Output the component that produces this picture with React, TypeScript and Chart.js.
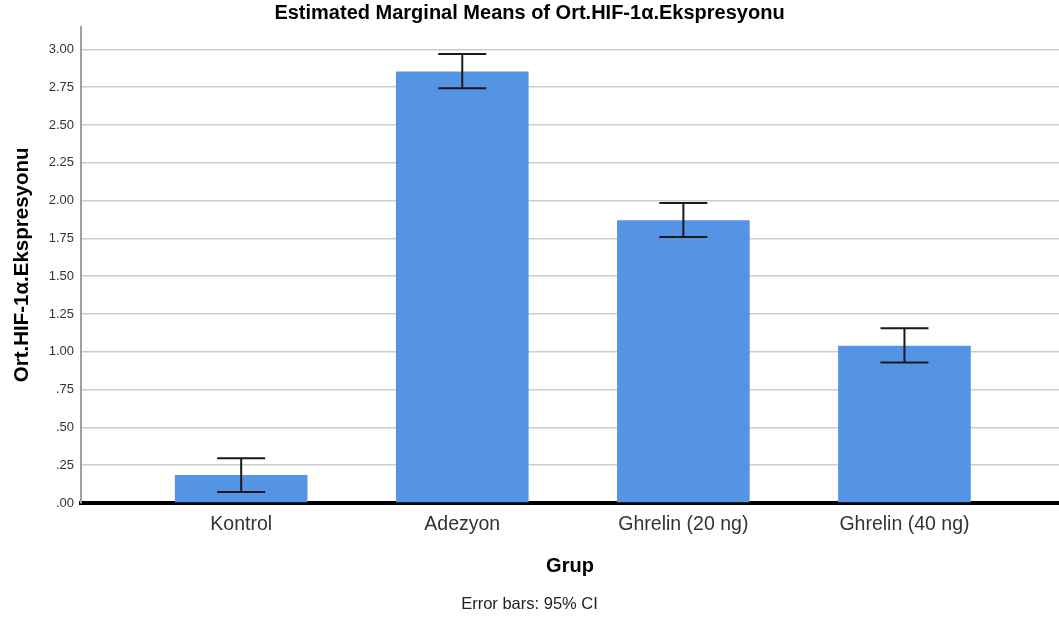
import React, { useEffect, useRef } from "react";
import { Chart, registerables } from "chart.js";

Chart.register(...registerables);

const categories = ["Kontrol", "Adezyon", "Ghrelin (20 ng)", "Ghrelin (40 ng)"];
const means = [0.185, 2.853, 1.87, 1.04];
const ciLower = [0.073, 2.743, 1.759, 0.93];
const ciUpper = [0.296, 2.97, 1.984, 1.155];
const yTickStep = 0.25;

const FONT = "'Liberation Sans', Arial, sans-serif";

function fmtTick(v: number): string {
  const s = Number(v).toFixed(2);
  return s.startsWith("0") ? s.slice(1) : s;
}

const errorBarPlugin = {
  id: "errorBars",
  afterDatasetsDraw(chart: any) {
    const { ctx, scales } = chart;
    const xs = scales.x;
    const ys = scales.y;
    ctx.save();
    ctx.strokeStyle = "#1a1a1a";
    ctx.lineWidth = 2;
    const cap = 24;
    categories.forEach((_, i) => {
      const x = xs.getPixelForValue(i);
      const yt = ys.getPixelForValue(ciUpper[i]);
      const yb = ys.getPixelForValue(ciLower[i]);
      ctx.beginPath();
      ctx.moveTo(x, yt);
      ctx.lineTo(x, yb);
      ctx.moveTo(x - cap, yt);
      ctx.lineTo(x + cap, yt);
      ctx.moveTo(x - cap, yb);
      ctx.lineTo(x + cap, yb);
      ctx.stroke();
    });
    ctx.restore();
  },
};

const bgPlugin = {
  id: "bg",
  beforeDraw(chart: any) {
    const { ctx, width, height } = chart;
    ctx.save();
    ctx.fillStyle = "#ffffff";
    ctx.fillRect(0, 0, width, height);
    ctx.restore();
  },
};

export default function App() {
  const ref = useRef<HTMLCanvasElement | null>(null);

  useEffect(() => {
    document.body.style.margin = "0";
    const canvas = ref.current;
    if (!canvas) return;
    const chart = new Chart(canvas, {
      type: "bar",
      data: {
        datasets: [
          {
            data: means.map((v, i) => ({ x: i, y: v })),
            backgroundColor: "#5594E4",
            borderWidth: 0,
            barPercentage: 0.6,
            categoryPercentage: 1,
          } as any,
        ],
      },
      options: {
        animation: false,
        responsive: false,
        devicePixelRatio: 1,
        layout: { padding: { top: 0, left: 0, right: 0, bottom: 0 } },
        plugins: {
          legend: { display: false },
          tooltip: { enabled: false },
          title: {
            display: true,
            text: "Estimated Marginal Means of Ort.HIF-1α.Ekspresyonu",
            color: "#000",
            font: { family: FONT, size: 20, weight: "bold" },
            padding: { top: 1.5, bottom: 1.2 },
          },
          subtitle: {
            display: true,
            position: "bottom",
            text: "Error bars: 95% CI",
            color: "#222",
            font: { family: FONT, size: 16.5, weight: "normal" },
            padding: { top: 6, bottom: 9.1 },
          },
        },
        scales: {
          x: {
            type: "linear",
            offset: false,
            min: -0.7245,
            max: 3.699,
            afterBuildTicks: (scale: any) => {
              scale.ticks = categories.map((_, i) => ({ value: i }));
            },
            afterFit: (scale: any) => {
              scale.height = 85.1;
            },
            ticks: {
              autoSkip: false,
              maxRotation: 0,
              color: "#333",
              padding: 10,
              font: { family: FONT, size: 19.5 },
              callback: (v: any) => categories[v] ?? "",
            },
            grid: { display: false, drawTicks: false, offset: false },
            border: { display: true, color: "#000", width: 4 },
            title: {
              display: true,
              text: "Grup",
              color: "#000",
              font: { family: FONT, size: 20, weight: "bold" },
              padding: { top: 0, bottom: 9.5 },
            },
          },
          y: {
            min: 0,
            max: 3.15,
            afterFit: (scale: any) => {
              scale.width = 81;
            },
            ticks: {
              stepSize: yTickStep,
              includeBounds: false,
              color: "#333",
              padding: 7,
              font: { family: FONT, size: 13 },
              callback: (v: any) => fmtTick(v),
            },
            grid: { color: "#cccccc", lineWidth: 1.5, drawTicks: false },
            border: { display: true, color: "#a0a0a0", width: 2 },
            title: {
              display: true,
              text: "Ort.HIF-1α.Ekspresyonu",
              color: "#000",
              font: { family: FONT, size: 20.5, weight: "bold" },
              padding: { top: 10, bottom: 0 },
            },
          },
        },
      } as any,
      plugins: [bgPlugin, errorBarPlugin],
    });
    return () => chart.destroy();
  }, []);

  return <canvas ref={ref} width={1059} height={623} style={{ display: "block" }} />;
}
